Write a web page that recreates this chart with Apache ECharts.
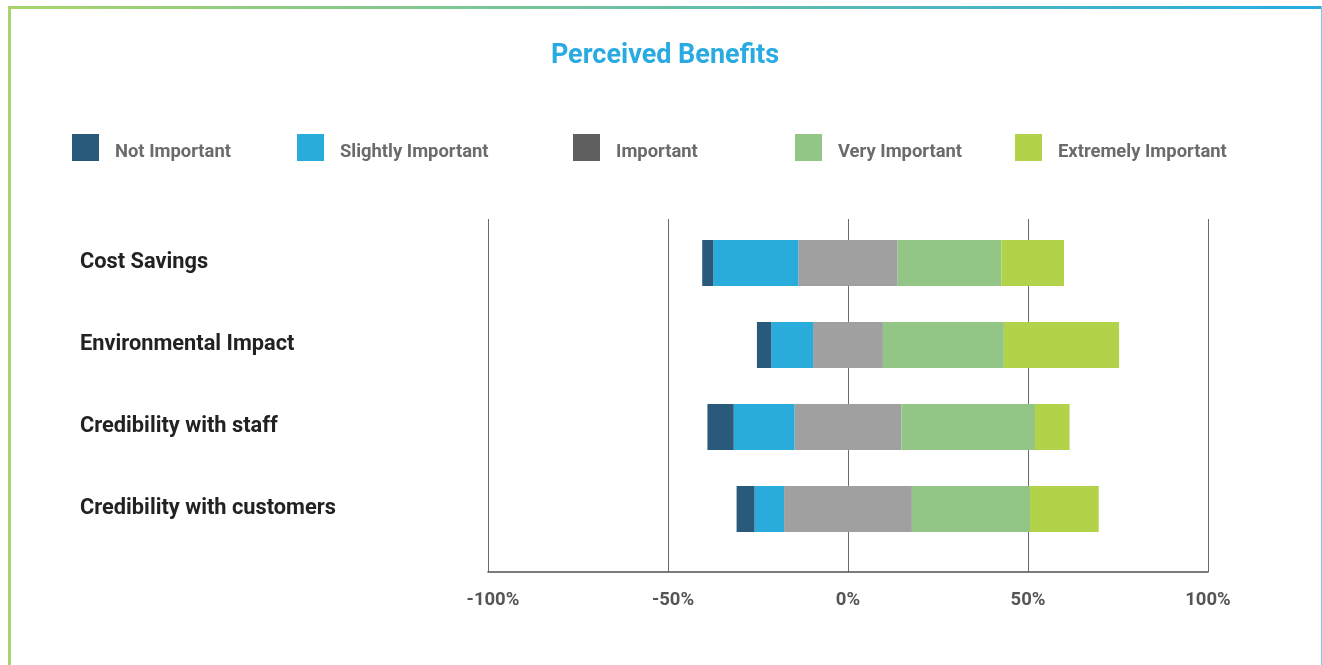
<!DOCTYPE html>
<html>
<head>
<meta charset="utf-8">
<title>Perceived Benefits</title>
<script src="https://cdn.jsdelivr.net/npm/echarts@6/dist/echarts.min.js"></script>
<style>
  html, body { margin: 0; padding: 0; background: #ffffff; }
  #chart { width: 1322px; height: 665px; }
</style>
</head>
<body>
<div id="chart"></div>
<script>
// Survey categories (top to bottom)
const categories = [
  'Cost Savings',
  'Environmental Impact',
  'Credibility with staff',
  'Credibility with customers'
];

// Share of responses per rating, in percent
const notImportant       = [3.1, 4.0, 7.3, 5.0];
const slightlyImportant  = [23.6, 11.6, 16.9, 8.2];
const important          = [27.6, 19.4, 29.7, 35.5];
const veryImportant      = [28.8, 33.6, 37.1, 32.8];
const extremelyImportant = [17.4, 32.0, 9.6, 19.1];

// Axis ticks
const tickValues = [-100, -50, 0, 50, 100];

const legendNames = ['Not Important', 'Slightly Important', 'Important', 'Very Important', 'Extremely Important'];
const colors = {
  'Not Important': '#2a5a7b',
  'Slightly Important': '#29abdc',
  'Important': '#a0a0a0',
  'Very Important': '#93c686',
  'Extremely Important': '#b2d249'
};
const legendIconColors = {
  'Important': '#5f5f5f'
};
const legendLefts = [72, 297, 573, 795, 1015];

const FONT = 'Roboto, "Open Sans", sans-serif';

// Diverging layout: negatives stack leftwards from zero, positives rightwards.
const half = important.map(v => v / 2);
const neg = arr => arr.map(v => -v);

function bar(name, data) {
  return {
    name: name,
    type: 'bar',
    stack: 'likert',
    xAxisIndex: 1,
    yAxisIndex: 1,
    barWidth: 46,
    itemStyle: { color: colors[name] },
    emphasis: { disabled: true },
    data: data
  };
}

const series = [
  bar('Important', neg(half)),
  bar('Important', half),
  bar('Slightly Important', neg(slightlyImportant)),
  bar('Not Important', neg(notImportant)),
  bar('Very Important', veryImportant),
  bar('Extremely Important', extremelyImportant)
];

const legendText = {
  fontFamily: FONT,
  fontWeight: 'bold',
  fontSize: 18.4,
  color: '#6b6b6b'
};

const legends = legendNames.map((name, i) => ({
  left: legendLefts[i],
  top: 134,
  padding: 0,
  icon: 'rect',
  itemWidth: 27,
  itemHeight: 27,
  selectedMode: false,
  formatter: '{t|{name}}',
  textStyle: Object.assign({}, legendText, {
    padding: [9, 0, 0, 11],
    rich: { t: Object.assign({}, legendText) }
  }),
  data: [legendIconColors[name]
    ? { name: name, itemStyle: { color: legendIconColors[name] } }
    : { name: name }]
}));

const tickText = {
  fontFamily: FONT,
  fontWeight: 'bold',
  fontSize: 18.5,
  color: '#555555'
};

const chart = echarts.init(document.getElementById('chart'), null, { renderer: 'canvas' });

chart.setOption({
  animation: false,
  backgroundColor: '#ffffff',
  title: {
    text: 'Perceived Benefits',
    left: 665,
    top: 43,
    padding: 0,
    textAlign: 'center',
    textStyle: {
      fontFamily: FONT,
      fontWeight: 'bold',
      fontSize: 27,
      color: '#29abe2'
    }
  },
  legend: legends,
  graphic: [
    {
      type: 'rect',
      shape: { x: 8, y: 6, width: 1314, height: 3 },
      style: {
        fill: new echarts.graphic.LinearGradient(0, 0, 1, 0, [
          { offset: 0, color: '#a9d46b' },
          { offset: 1, color: '#29abe2' }
        ])
      },
      silent: true
    },
    {
      type: 'rect',
      shape: { x: 8, y: 6, width: 3, height: 659 },
      style: { fill: '#a9d46b' },
      silent: true
    },
    {
      type: 'rect',
      shape: { x: 1321, y: 6, width: 1, height: 659 },
      style: { fill: '#7fcbe9' },
      silent: true
    }
  ],
  grid: [
    { left: 488, width: 720, top: 219, height: 353 },
    { left: 488, width: 720, top: 222, height: 328 }
  ],
  xAxis: [
    {
      gridIndex: 0,
      type: 'value',
      min: tickValues[0],
      max: tickValues[tickValues.length - 1],
      interval: 50,
      axisLine: { show: true, lineStyle: { color: '#505050', width: 1.5 } },
      axisTick: { show: false },
      splitLine: { show: true, lineStyle: { color: '#6a6a6a', width: 1 } },
      axisLabel: Object.assign({}, tickText, {
        margin: 19,
        // negative labels hang their minus sign to the left of the tick
        formatter: v => (v < 0 ? '{n|' + v + '%}' : v + '%'),
        rich: { n: Object.assign({}, tickText, { padding: [0, 0, 0, 10] }) }
      })
    },
    {
      gridIndex: 1,
      type: 'value',
      min: tickValues[0],
      max: tickValues[tickValues.length - 1],
      show: false
    }
  ],
  yAxis: [
    {
      gridIndex: 0,
      type: 'value',
      show: false
    },
    {
      gridIndex: 1,
      type: 'category',
      inverse: true,
      data: categories,
      axisLine: { show: false },
      axisTick: { show: false },
      splitLine: { show: false },
      axisLabel: {
        align: 'left',
        margin: 408,
        fontFamily: FONT,
        fontWeight: 'bold',
        fontSize: 21.8,
        color: '#222222'
      }
    }
  ],
  series: series
});
</script>
</body>
</html>
